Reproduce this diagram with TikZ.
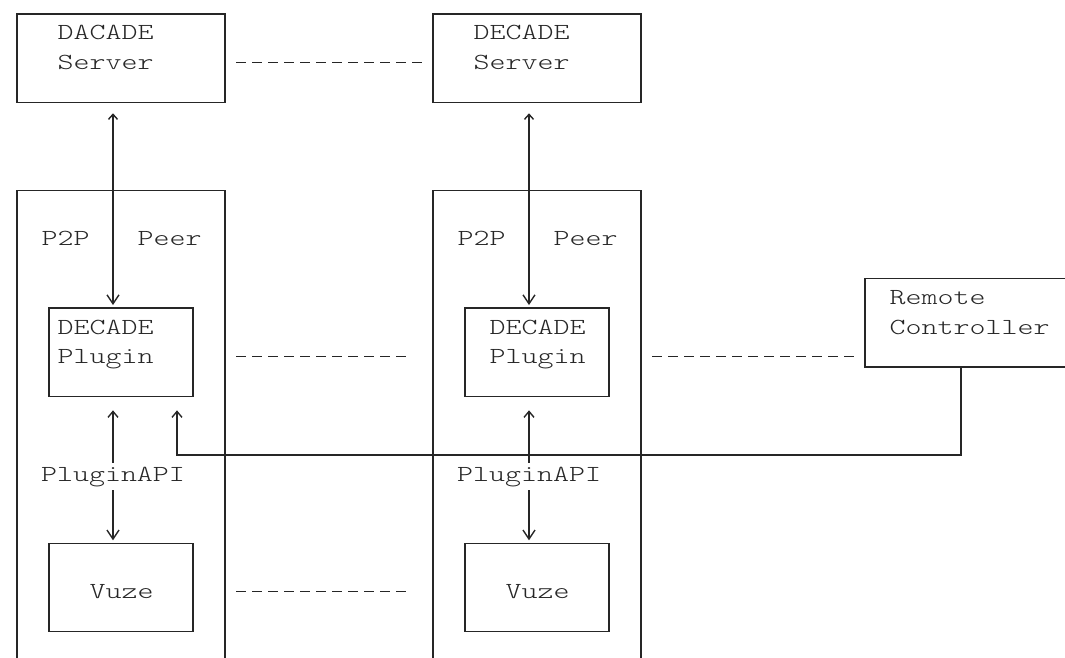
\documentclass[tikz,border=0pt]{standalone}
\usepackage{fontspec}
\setmonofont[FakeStretch=1.325]{lmmonolt10-regular.otf}
\usetikzlibrary{arrows.meta}

\begin{document}
\begin{tikzpicture}[x=1pt,y=-1pt,line width=1.4pt,color=black!85,
  >={Straight Barb[length=6pt,width=10pt]},
  box/.style={draw,minimum height=88.2pt,inner sep=0pt,outer sep=0pt},
  wide/.style={box,minimum width=208pt},
  slim/.style={box,minimum width=144pt},
  txt/.style={font=\ttfamily\fontsize{23}{28}\selectfont,inner sep=0pt,anchor=base west},
  wire/.style={dash pattern=on 10pt off 6pt,shorten <=11pt,shorten >=11pt},
  duplex/.style={{Straight Barb[length=5pt,width=9pt]}-{Straight Barb[length=9pt,width=12pt]}},
  down/.style={-{Straight Barb[length=9pt,width=12pt]}}]
\useasboundingbox (0,0) rectangle (1065,658);
\clip (0,0) rectangle (1065,658);

\node[wide] (serverA) at (121,58.2) {};
\node[wide] (serverB) at (537,58.2) {};
\node[wide,minimum height=509.5pt] (peerA) at (121,445.25) {};
\node[wide,minimum height=509.5pt] (peerB) at (537,445.25) {};
\node[slim] (pluginA) at (121,352.2) {};
\node[slim] (pluginB) at (537,352.2) {};
\node[slim] (vuzeA) at (121,587.4) {};
\node[slim] (vuzeB) at (537,587.4) {};
\node[wide] (remote) at (969,322.8) {};

\node[txt] (serverAname) at (57,40) {DACADE};
\node[txt] (serverArole) at (57,69.4) {Server};
\node[txt] (serverBname) at (473,40) {DECADE};
\node[txt] (serverBrole) at (473,69.4) {Server};
\node[txt] (peerAp2p) at (41,245.8) {P2P};
\node[txt] (peerApeer) at (137,245.8) {Peer};
\node[txt] (peerBp2p) at (457,245.8) {P2P};
\node[txt] (peerBpeer) at (553,245.8) {Peer};
\node[txt] (pluginAname) at (57,334) {DECADE};
\node[txt] (pluginArole) at (57,363.4) {Plugin};
\node[txt] (pluginBname) at (489,334) {DECADE};
\node[txt] (pluginBrole) at (489,363.4) {Plugin};
\node[txt,anchor=base,inner ysep=3pt] (apiA) at (113,481) {PluginAPI};
\node[txt,anchor=base,inner ysep=3pt] (apiB) at (529,481) {PluginAPI};
\node[txt] (vuzeAname) at (89,598.6) {Vuze};
\node[txt] (vuzeBname) at (505,598.6) {Vuze};
\node[txt] (remoteName) at (889,304.6) {Remote};
\node[txt] (remoteRole) at (889,334) {Controller};

\draw[duplex,shorten <=11pt,shorten >=3pt] ([xshift=-8pt]serverA.south) -- ([xshift=-8pt]pluginA.north);
\draw[duplex,shorten <=11pt,shorten >=3pt] ([xshift=-8pt]serverB.south) -- ([xshift=-8pt]pluginB.north);
\draw[->,shorten >=14pt] (apiA.north) -- (apiA.north |- pluginA.south);
\draw[down,shorten >=3pt] (apiA.south) -- (apiA.south |- vuzeA.north);
\draw[->,shorten >=14pt] (apiB.north) -- (apiB.north |- pluginB.south);
\draw[down,shorten >=3pt] (apiB.south) -- (apiB.south |- vuzeB.north);
\draw[->,shorten >=14pt] ([xshift=96pt]remote.south west) -- ++(0,88.2) -| ([xshift=128pt]pluginA.south west);

\coordinate (lvlS) at ([yshift=-4.2pt]serverA.east);
\coordinate (lvlP) at ([yshift=-4.2pt]pluginA.east);
\coordinate (lvlV) at ([yshift=-4.2pt]vuzeA.east);
\draw[wire] (lvlS -| serverA.east) -- (lvlS -| serverB.west);
\draw[wire,shorten >=27pt] (lvlP -| peerA.east) -- (lvlP -| peerB.west);
\draw[wire] (lvlP -| peerB.east) -- (lvlP -| remote.west);
\draw[wire,shorten >=27pt] (lvlV -| peerA.east) -- (lvlV -| peerB.west);
\end{tikzpicture}
\end{document}
